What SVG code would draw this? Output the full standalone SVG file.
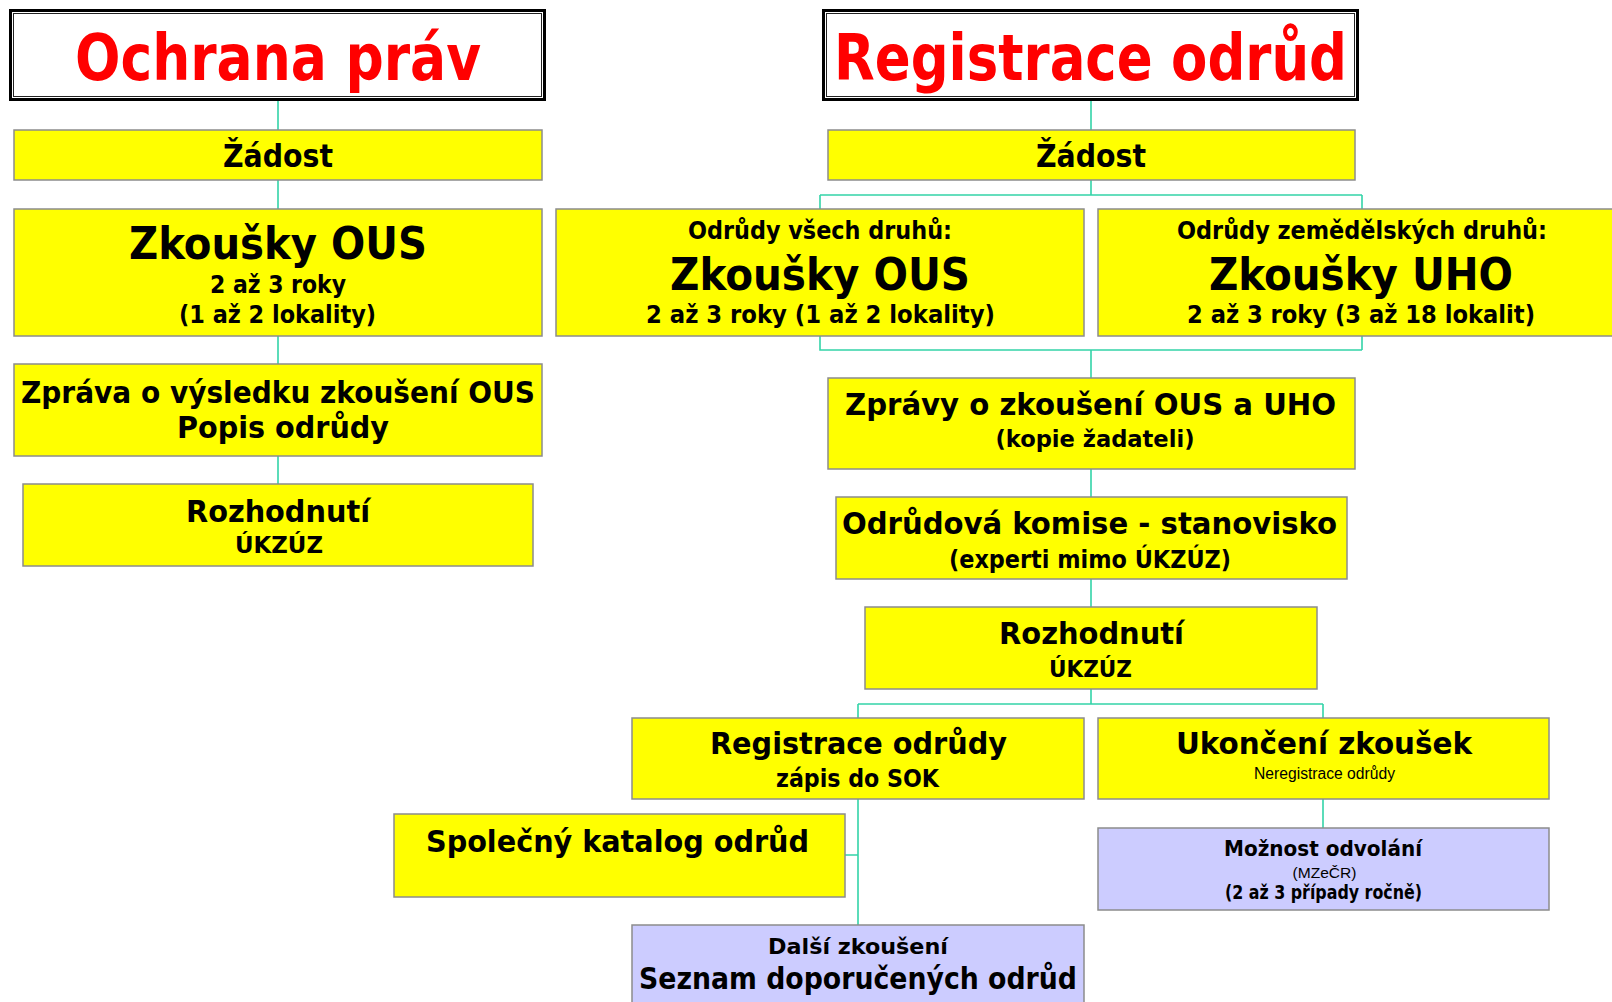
<svg xmlns="http://www.w3.org/2000/svg" width="1612" height="1002" viewBox="0 0 1612 1002">
<style>
.y{fill:#FFFF00;stroke:#8C8C8C;stroke-width:1.5}
.l{fill:#CCCCFF;stroke:#8C8C8C;stroke-width:1.5}
.ho{fill:#FFFFFF;stroke:#000;stroke-width:3}
.hi{fill:none;stroke:#222;stroke-width:1}
.c{fill:none;stroke:#33D4A8;stroke-width:1.6}
text{font-family:"DejaVu Sans Condensed","DejaVu Sans",sans-serif;font-weight:bold;font-stretch:condensed;text-anchor:middle;fill:#000}
text.t{fill:#FF0000;font-size:64px}
text.r{font-family:"Liberation Sans",Arial,sans-serif;font-weight:normal;font-stretch:normal}
</style>
<rect width="1612" height="1002" fill="#FFFFFF"/>
<g id="connectors">
<path class="c" d="M278 101V130M278 180V209M278 336V364M278 456V484"/>
<path class="c" d="M1091 101V130M1091 180V195M820 195H1362M820 195V209M1362 195V209M820 336V350H1362M1362 336V350M1091 350V378M1091 469V497M1091 579V607M1091 689V704M858 704H1323M858 704V718M1323 704V718M858 799V925M845 855H858M1323 799V828"/>
</g>
<g id="hdrL">
<rect class="ho" x="10.5" y="10.5" width="534" height="89"/>
<rect class="hi" x="13.5" y="13.5" width="528" height="83"/>
<text class="t" x="278" y="80" textLength="406" lengthAdjust="spacingAndGlyphs">Ochrana práv</text>
</g>
<g id="hdrR">
<rect class="ho" x="823.5" y="10.5" width="534" height="89"/>
<rect class="hi" x="826.5" y="13.5" width="528" height="83"/>
<text class="t" x="1090.5" y="80" textLength="513" lengthAdjust="spacingAndGlyphs">Registrace odrůd</text>
</g>
<g id="zadostL">
<rect class="y" x="14" y="130" width="528" height="50"/>
<text x="278" y="167" font-size="32" textLength="110" lengthAdjust="spacingAndGlyphs">Žádost</text>
</g>
<g id="zadostR">
<rect class="y" x="828" y="130" width="527" height="50"/>
<text x="1091" y="167" font-size="32" textLength="110" lengthAdjust="spacingAndGlyphs">Žádost</text>
</g>
<g id="zkouskyL">
<rect class="y" x="14" y="209" width="528" height="127"/>
<text x="278" y="259" font-size="45" textLength="298" lengthAdjust="spacingAndGlyphs">Zkoušky OUS</text>
<text x="278" y="293" font-size="24" textLength="136" lengthAdjust="spacingAndGlyphs">2 až 3 roky</text>
<text x="277.5" y="323" font-size="24" textLength="197" lengthAdjust="spacingAndGlyphs">(1 až 2 lokality)</text>
</g>
<g id="zkouskyOUS">
<rect class="y" x="556" y="209" width="528" height="127"/>
<text x="820" y="239" font-size="24" textLength="264" lengthAdjust="spacingAndGlyphs">Odrůdy všech druhů:</text>
<text x="820" y="290" font-size="45" textLength="300" lengthAdjust="spacingAndGlyphs">Zkoušky OUS</text>
<text x="820.5" y="323" font-size="24" textLength="349" lengthAdjust="spacingAndGlyphs">2 až 3 roky (1 až 2 lokality)</text>
</g>
<g id="zkouskyUHO">
<rect class="y" x="1098" y="209" width="528" height="127"/>
<text x="1362" y="239" font-size="24" textLength="370" lengthAdjust="spacingAndGlyphs">Odrůdy zemědělských druhů:</text>
<text x="1361" y="290" font-size="45" textLength="304" lengthAdjust="spacingAndGlyphs">Zkoušky UHO</text>
<text x="1361" y="323" font-size="24" textLength="348" lengthAdjust="spacingAndGlyphs">2 až 3 roky (3 až 18 lokalit)</text>
</g>
<g id="zpravaL">
<rect class="y" x="14" y="364" width="528" height="92"/>
<text x="278" y="403" font-size="31" textLength="514" lengthAdjust="spacingAndGlyphs">Zpráva o výsledku zkoušení OUS</text>
<text x="283" y="438" font-size="31" textLength="212" lengthAdjust="spacingAndGlyphs">Popis odrůdy</text>
</g>
<g id="rozhodnutiL">
<rect class="y" x="23" y="484" width="510" height="82"/>
<text x="278" y="522" font-size="31" textLength="184" lengthAdjust="spacingAndGlyphs">Rozhodnutí</text>
<text x="279" y="553" font-size="23" textLength="88" lengthAdjust="spacingAndGlyphs">ÚKZÚZ</text>
</g>
<g id="zpravyR">
<rect class="y" x="828" y="378" width="527" height="91"/>
<text x="1090.5" y="415" font-size="31" textLength="491" lengthAdjust="spacingAndGlyphs">Zprávy o zkoušení OUS a UHO</text>
<text x="1095" y="447" font-size="23" textLength="199" lengthAdjust="spacingAndGlyphs">(kopie žadateli)</text>
</g>
<g id="komise">
<rect class="y" x="836" y="497" width="511" height="82"/>
<text x="1089.5" y="534" font-size="31" textLength="495" lengthAdjust="spacingAndGlyphs">Odrůdová komise - stanovisko</text>
<text x="1090" y="568" font-size="24" textLength="282" lengthAdjust="spacingAndGlyphs">(experti mimo ÚKZÚZ)</text>
</g>
<g id="rozhodnutiR">
<rect class="y" x="865" y="607" width="452" height="82"/>
<text x="1091.5" y="644" font-size="31" textLength="185" lengthAdjust="spacingAndGlyphs">Rozhodnutí</text>
<text x="1090.5" y="677" font-size="23" textLength="83" lengthAdjust="spacingAndGlyphs">ÚKZÚZ</text>
</g>
<g id="registrace">
<rect class="y" x="632" y="718" width="452" height="81"/>
<text x="858.5" y="754" font-size="31" textLength="297" lengthAdjust="spacingAndGlyphs">Registrace odrůdy</text>
<text x="857.5" y="787" font-size="24" textLength="163" lengthAdjust="spacingAndGlyphs">zápis do SOK</text>
</g>
<g id="ukonceni">
<rect class="y" x="1098" y="718" width="451" height="81"/>
<text x="1324" y="754" font-size="31" textLength="296" lengthAdjust="spacingAndGlyphs">Ukončení zkoušek</text>
<text class="r" x="1324.5" y="779" font-size="16" textLength="141" lengthAdjust="spacingAndGlyphs">Neregistrace odrůdy</text>
</g>
<g id="katalog">
<rect class="y" x="394" y="814" width="451" height="83"/>
<text x="617.5" y="852" font-size="31" textLength="383" lengthAdjust="spacingAndGlyphs">Společný katalog odrůd</text>
</g>
<g id="odvolani">
<rect class="l" x="1098" y="828" width="451" height="82"/>
<text x="1323" y="856" font-size="21" textLength="198" lengthAdjust="spacingAndGlyphs">Možnost odvolání</text>
<text class="r" x="1324.5" y="878" font-size="15" textLength="64" lengthAdjust="spacingAndGlyphs">(MZeČR)</text>
<text x="1323.5" y="899" font-size="19" textLength="197" lengthAdjust="spacingAndGlyphs">(2 až 3 případy ročně)</text>
</g>
<g id="dalsi">
<rect class="l" x="632" y="925" width="452" height="90"/>
<text x="858" y="954" font-size="22" textLength="180" lengthAdjust="spacingAndGlyphs">Další zkoušení</text>
<text x="858" y="989" font-size="30" textLength="438" lengthAdjust="spacingAndGlyphs">Seznam doporučených odrůd</text>
</g>
</svg>
